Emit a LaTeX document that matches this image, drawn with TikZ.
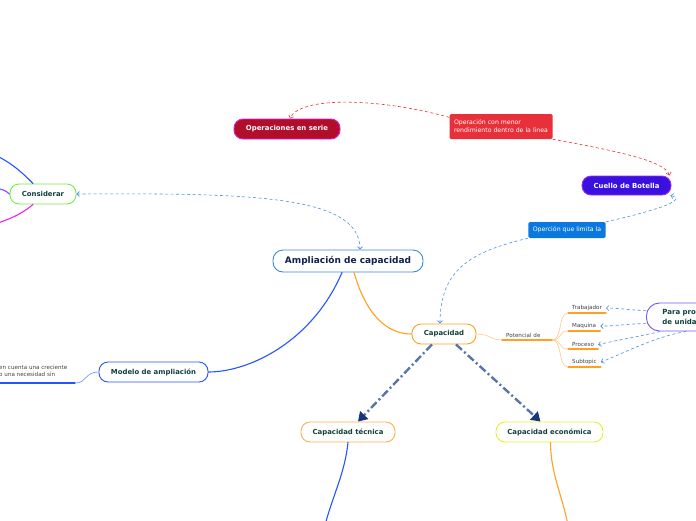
\documentclass[tikz,border=0pt]{standalone}
\usepackage{fontspec}
\setmainfont{DejaVu Sans}
\usetikzlibrary{arrows.meta}
\usepackage{xcolor}

\definecolor{txtdark}{HTML}{12403C}
\definecolor{navytxt}{HTML}{10204A}
\definecolor{serie}{HTML}{B00E2A}
\definecolor{seriebd}{HTML}{E01ECC}
\definecolor{relred}{HTML}{E8303A}
\definecolor{botella}{HTML}{3A10E0}
\definecolor{botellabd}{HTML}{9A30F0}
\definecolor{relblue}{HTML}{0A78E0}
\definecolor{dashblue}{HTML}{4A90E0}
\definecolor{ampbd}{HTML}{3A88D8}
\definecolor{capor}{HTML}{FFA020}
\definecolor{lightor}{HTML}{FFD090}
\definecolor{modblue}{HTML}{2255FF}
\definecolor{tecor}{HTML}{FFB050}
\definecolor{econ}{HTML}{DDF530}
\definecolor{consgreen}{HTML}{70F040}
\definecolor{paraviol}{HTML}{7755EE}
\definecolor{steel}{HTML}{5A74A8}
\definecolor{navyhead}{HTML}{18357E}
\definecolor{branchviol}{HTML}{8844FF}
\definecolor{branchmag}{HTML}{EE22EE}

\begin{document}
\begin{tikzpicture}[x=1pt,y=-1pt,line cap=round,
  >={Straight Barb[length=2.5pt,width=5pt]},
  topic/.style={draw,line width=0.9pt,rounded corners=9pt,fill=white,text=txtdark,
    font=\bfseries\fontsize{6.9}{8}\selectfont,minimum height=20pt,inner sep=0pt},
  filled/.style={topic,text=white},
  rellabel/.style={rounded corners=1.5pt,text=white,font=\fontsize{6.2}{8}\selectfont,
    align=left,inner xsep=4.5pt,inner ysep=3pt},
  rel/.style={dash pattern=on 3pt off 2.5pt,line width=0.6pt,line cap=butt},
  link/.style={rel,dashblue,->},
  branch/.style={line width=1.1pt},
  subtopic/.style={anchor=south west,inner xsep=4pt,inner ysep=2pt,text=black!75,
    font=\fontsize{5.6}{6.5}\selectfont},
  underl/.style={capor,line width=1.3pt},
  twig/.style={lightor,line width=0.7pt},
  kind/.style={steel,line width=2.4pt,line cap=butt,dash pattern=on 8pt off 3pt on 2pt off 3pt,
    -{Triangle[length=9pt,width=11pt,color=navyhead]}}
]
\useasboundingbox (0,0) rectangle (696,520);
\clip (0,0) rectangle (696,520);

% main topics
\node[topic,draw=ampbd,text=navytxt,font=\bfseries\fontsize{9}{10}\selectfont,
  minimum width=150pt,minimum height=22pt,rounded corners=10pt] (amp) at (348,261) {Ampliación de capacidad};
\node[topic,draw=consgreen,minimum width=66pt] (cons) at (43,194) {Considerar};
\node[filled,fill=serie,draw=seriebd,minimum width=106pt] (serie) at (287,129) {Operaciones en serie};
\node[filled,fill=botella,draw=botellabd,minimum width=89pt,minimum height=19pt] (botella) at (626.5,185.5) {Cuello de Botella};
\node[topic,draw=capor,minimum width=64pt] (cap) at (444,334) {Capacidad};
\node[topic,draw=modblue,minimum width=109pt] (modelo) at (153.5,372) {Modelo de ampliación};
\node[topic,draw=tecor,minimum width=94pt] (tec) at (348,432) {Capacidad técnica};
\node[topic,draw=econ,minimum width=107pt] (eco) at (549.5,432) {Capacidad económica};
\node[topic,draw=paraviol,anchor=west,minimum height=28pt,rounded corners=13pt,align=left,
  text width=74pt,inner xsep=16pt,font=\bfseries\fontsize{7}{10}\selectfont] (para) at (646,317) {Para pro\\de unida};

% relation labels
\node[rellabel,fill=relred,minimum height=25pt] (oplab) at (501,126.5) {Operación con menor\\rendimiento dentro de la linea};
\node[rellabel,fill=relblue,minimum height=16pt] (limlab) at (567,230) {Operción que limita la};

% subtopics of Capacidad
\node[subtopic,text width=42pt] (pot) at (502,340) {Potencial de};
\node[subtopic] (trab) at (568,313) {Trabajador};
\node[subtopic] (maq) at (568,331) {Maquina};
\node[subtopic] (proc) at (568,349) {Proceso};
\node[subtopic] (subt) at (568,367) {Subtopic};
\draw[twig] (cap.east) .. controls +(14,0) and +(-12,0) .. (pot.south west);
\foreach \n in {pot,trab,maq,proc,subt}
  \draw[underl] (\n.south west) -- (\n.south east);
\foreach \n in {trab,maq,proc,subt}
  \draw[twig] (pot.south east) .. controls +(10,0) and +(-10,0) .. (\n.south west);

% branches
\draw[capor,branch] ([xshift=6pt]amp.south) .. controls +(12,42) and +(-25,0) .. (cap.west);
\draw[modblue,branch] ([xshift=-6pt]amp.south) .. controls +(-30,70) and +(40,0) .. (modelo.east);
\draw[modblue,branch] (tec.south) .. controls +(-3,30) and +(8,-30) .. (325,525);
\draw[capor,branch] ([xshift=1pt]eco.south) .. controls +(0,30) and +(-6,-30) .. (568,525);
\draw[modblue,branch] ([xshift=-10pt]cons.north) .. controls (22,172) and (10,162) .. (-5,155);
\draw[branchviol,branch] (cons.west) .. controls +(-5,-4) .. (-5,188);
\draw[branchmag,branch] ([xshift=-10pt]cons.south) .. controls (22,214) and (10,219) .. (-5,224);

% Modelo de ampliacion subtopic
\coordinate (modend) at (75,383);
\draw[modblue!60,line width=0.7pt] (modelo.west) .. controls +(-14,0) and +(12,0) .. (modend);
\draw[modblue,line width=1.3pt] (modend) -- (-5,383);
\node[anchor=south west,inner sep=0pt,align=left,text=black!75,font=\fontsize{5.6}{7}\selectfont] (need) at (-1,376.5) {en cuenta una creciente\\o una necesidad sin};

% kinds of capacity
\draw[kind] ([xshift=-12pt]cap.south) -- ([xshift=10pt]tec.north);
\draw[kind] ([xshift=12pt]cap.south) -- ([xshift=-9pt]eco.north);

% relationships
\draw[rel,dashblue,<->] (cons.east) .. controls (250,193) and (360,195) .. ([xshift=12pt]amp.north);
\draw[rel,relred,->] (oplab.south east) .. controls (610,150) and (665,160) .. ([xshift=-2pt]botella.north east);
\draw[rel,relred,->] (oplab.170) .. controls (380,98) and (300,96) .. ([xshift=3pt]serie.north);
\draw[rel,dashblue,->] (limlab.north east) .. controls (650,212) and (690,200) .. ([xshift=-1pt]botella.south east);
\draw[rel,dashblue,->] (limlab.south west) .. controls (470,252) and (440,270) .. ([xshift=-4pt]cap.north);
\draw[link] (para.173) .. controls +(-15,0) and +(15,0) .. (trab.east);
\draw[link] (para.187) .. controls +(-15,0) and +(15,0) .. (maq.east);
\draw[link] ([xshift=14pt]para.south west) .. controls +(-20,5) and +(20,-5) .. (proc.east);
\draw[link] ([xshift=40pt]para.south west) .. controls +(-30,5) and +(25,-10) .. (subt.east);
\end{tikzpicture}
\end{document}
